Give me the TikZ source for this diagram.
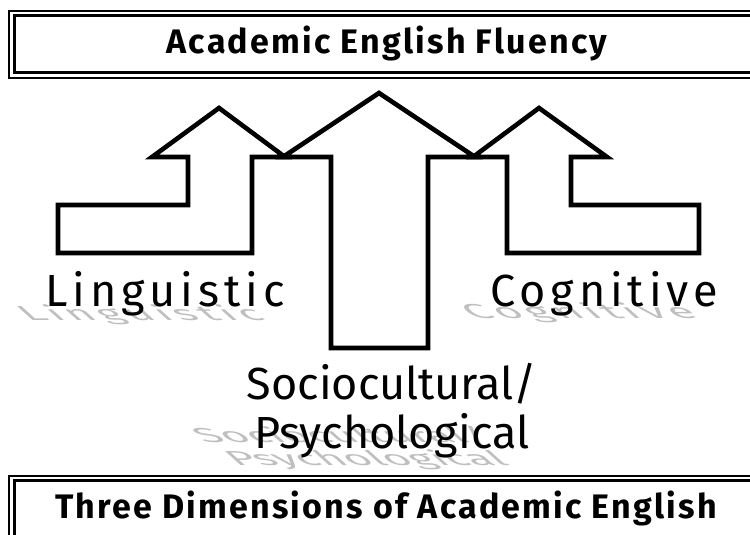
\documentclass[tikz,border=0pt]{standalone}
\usepackage{fontspec}
\setmainfont{Fira Sans}
\newfontfamily\dimfont[LetterSpace=11]{Fira Sans}
\newfontfamily\titlefont[LetterSpace=6.5]{Fira Sans}
\usetikzlibrary{calc}
\usetikzlibrary{positioning}

\begin{document}
\begin{tikzpicture}
[
	x = 1pt, y = -1pt,
	framethin/.style = {draw, line width = 1.3pt},
	framethick/.style = {draw, line width = 3.8pt},
	arrowbox/.style = {draw, fill = white, line width = 4.6pt, line join = miter},
	title/.style = {font = \titlefont\bfseries\fontsize{34}{34}\selectfont, inner sep = 0pt},
	dim/.style = {font = \dimfont\fontsize{45}{45}\selectfont, inner sep = 0pt},
	dimlow/.style = {font = \fontsize{45}{49}\selectfont, inner sep = 0pt},
	shadow/.style = {text = black!25, cm = {1,0,-0.5,0.45,(0,0)}, transform shape},
]
	\useasboundingbox (0,0) rectangle (750,535);

	% frames
	\draw [framethin] (9,11) rectangle (790,78);
	\draw [framethick] (14.5,15.5) rectangle (790,72.5);
	%
	\draw [framethin] (9,476) rectangle (790,600);
	\draw [framethick] (14.5,480.5) rectangle (790,600);

	\node (fluency) [title, anchor = base] at (387,54) {Academic English Fluency};
	\node (dims) [title, anchor = base] at (386,518) {Three Dimensions of Academic English};

	% arrows
	\draw [arrowbox] (58,253) -- (58,205) -- (188,205) -- (188,157) -- (152,157)
		-- (219,108) -- (285,157) -- (252,157) -- (252,253) -- cycle;
	\draw [arrowbox] (507,253) -- (507,157) -- (473,157) -- (539,108) -- (607,157)
		-- (571,157) -- (571,205) -- (699,205) -- (699,253) -- cycle;
	\draw [arrowbox] (331,348) -- (331,157) -- (283,157) -- (379,93) -- (475,157)
		-- (428,157) -- (428,348) -- cycle;

	% shadows
	\begin{scope}[shift = {(28,320)}]
		\node [dim, shadow, anchor = base west] at (0,0) {Linguistic};
	\end{scope}
	\begin{scope}[shift = {(472,318)}]
		\node [dim, shadow, anchor = base west] at (0,0) {Cognitive};
	\end{scope}
	\begin{scope}[shift = {(228,465)}]
		\node [dimlow, shadow, anchor = base west, align = center] at (0,0) {Sociocultural/\\Psychological};
	\end{scope}

	% dimensions
	\node (ling) [dim, anchor = base west] at (45,306) {Linguistic};
	\node (cogn) [dim, anchor = base west] at (490,306) {Cognitive};
	\node (socio) [dimlow, anchor = base] at (392,399) {Sociocultural/};
	\node (psych) [dimlow, anchor = base] at ($(socio.base)+(0,49)$) {Psychological};

\end{tikzpicture}
\end{document}
